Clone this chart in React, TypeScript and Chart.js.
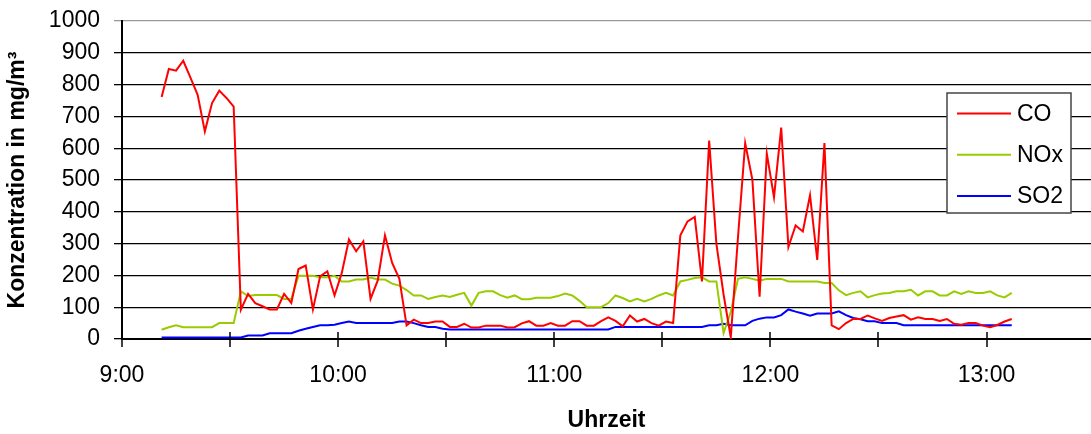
import React, { useEffect, useRef } from 'react';
import { Chart, registerables } from 'chart.js';

Chart.register(...registerables);

const FONT = "'Liberation Sans', Arial, Helvetica, sans-serif";

const times = [
  '9:11', '9:13', '9:15', '9:17', '9:19', '9:21', '9:23', '9:25', '9:27', '9:29',
  '9:31', '9:33', '9:35', '9:37', '9:39', '9:41', '9:43', '9:45', '9:47', '9:49',
  '9:51', '9:53', '9:55', '9:57', '9:59',
  '10:01', '10:03', '10:05', '10:07', '10:09', '10:11', '10:13', '10:15', '10:17', '10:19',
  '10:21', '10:23', '10:25', '10:27', '10:29', '10:31', '10:33', '10:35', '10:37', '10:39',
  '10:41', '10:43', '10:45', '10:47', '10:49', '10:51', '10:53', '10:55', '10:57', '10:59',
  '11:01', '11:03', '11:05', '11:07', '11:09', '11:11', '11:13', '11:15', '11:17', '11:19',
  '11:21', '11:23', '11:25', '11:27', '11:29', '11:31', '11:33', '11:35', '11:37', '11:39',
  '11:41', '11:43', '11:45', '11:47', '11:49', '11:51', '11:53', '11:55', '11:57', '11:59',
  '12:01', '12:03', '12:05', '12:07', '12:09', '12:11', '12:13', '12:15', '12:17', '12:19',
  '12:21', '12:23', '12:25', '12:27', '12:29', '12:31', '12:33', '12:35', '12:37', '12:39',
  '12:41', '12:43', '12:45', '12:47', '12:49', '12:51', '12:53', '12:55', '12:57', '12:59',
  '13:01', '13:03', '13:05', '13:07',
];

const coValues = [
  761, 849, 844, 875, 822, 768, 653, 742, 781, 758,
  731, 92, 142, 113, 103, 93, 93, 142, 113, 220,
  231, 93, 197, 213, 137, 207, 313, 276, 307, 126,
  184, 326, 239, 189, 43, 61, 50, 50, 55, 55,
  38, 38, 48, 36, 36, 42, 42, 42, 36, 37,
  49, 56, 42, 42, 50, 42, 42, 56, 56, 42,
  42, 56, 68, 57, 40, 74, 55, 63, 50, 42,
  55, 50, 326, 370, 384, 181, 624, 300, 140, 5,
  320, 616, 501, 133, 583, 446, 665, 289, 357, 338,
  452, 249, 616, 43, 31, 50, 63, 63, 74, 65,
  57, 66, 71, 75, 61, 68, 63, 63, 57, 63,
  48, 45, 50, 50, 42, 37, 44, 55, 63,
];

const noxValues = [
  29, 37, 43, 37, 37, 37, 37, 37, 50, 50,
  50, 150, 135, 138, 138, 138, 138, 126, 126, 199,
  199, 199, 194, 194, 199, 181, 181, 187, 187, 193,
  187, 187, 174, 168, 154, 137, 137, 126, 132, 137,
  132, 139, 145, 105, 145, 150, 150, 138, 130, 137,
  125, 125, 130, 130, 130, 135, 143, 137, 120, 100,
  100, 100, 113, 137, 129, 118, 126, 118, 126, 137,
  145, 137, 181, 186, 192, 194, 181, 181, 19, 85,
  189, 194, 189, 183, 189, 189, 189, 181, 181, 181,
  181, 181, 176, 176, 153, 138, 145, 150, 131, 138,
  143, 145, 150, 150, 155, 137, 150, 150, 137, 137,
  150, 142, 150, 145, 145, 150, 137, 131, 145,
];

const so2Values = [
  5, 5, 5, 5, 5, 5, 5, 5, 5, 5,
  5, 5, 11, 11, 11, 18, 18, 18, 18, 26,
  32, 38, 43, 43, 45, 50, 55, 50, 50, 50,
  50, 50, 50, 55, 55, 50, 43, 38, 38, 32,
  30, 30, 30, 30, 30, 30, 30, 30, 30, 30,
  30, 30, 30, 30, 30, 30, 30, 30, 30, 30,
  30, 30, 30, 38, 38, 38, 38, 38, 38, 38,
  38, 38, 38, 38, 38, 38, 43, 43, 48, 43,
  43, 43, 57, 64, 68, 68, 75, 93, 86, 80,
  73, 80, 80, 80, 87, 75, 66, 62, 56, 56,
  50, 50, 50, 43, 43, 43, 43, 43, 43, 43,
  43, 43, 43, 43, 43, 43, 43, 43, 43,
];

const seriesLabels = ['CO', 'NOx', 'SO2'];
const seriesColors = ['#ff0000', '#99cc00', '#0000ff'];

// x-axis ticks in minutes since midnight (every 30 min, labelled on the hour)
const xTickMinutes = [540, 570, 600, 630, 660, 690, 720, 750, 780];
const xMin = 540;
const xMax = 809;
const yMin = 0;
const yMax = 1000;
const yStep = 100;

const toMinutes = (t: string) => {
  const [h, m] = t.split(':').map(Number);
  return h * 60 + m;
};

const boxLegend = {
  id: 'boxLegend',
  afterDatasetsDraw(chart: any) {
    const ctx = chart.ctx;
    const x0 = 947;
    const y0 = 93;
    const w = 124;
    const h = 120;
    ctx.save();
    ctx.fillStyle = '#ffffff';
    ctx.fillRect(x0, y0, w, h);
    ctx.strokeStyle = '#444444';
    ctx.lineWidth = 1.5;
    ctx.strokeRect(x0, y0, w, h);
    chart.data.datasets.forEach((ds: any, i: number) => {
      const y = y0 + 20.5 + i * 41.2;
      ctx.strokeStyle = ds.borderColor;
      ctx.lineWidth = 2;
      ctx.beginPath();
      ctx.moveTo(x0 + 10, y);
      ctx.lineTo(x0 + 64, y);
      ctx.stroke();
      ctx.fillStyle = '#000000';
      ctx.font = `23px ${FONT}`;
      ctx.textBaseline = 'middle';
      ctx.textAlign = 'left';
      ctx.fillText(ds.label, x0 + 70, y + 1);
    });
    ctx.restore();
  },
};

const xTickMarks = {
  id: 'xTickMarks',
  afterDraw(chart: any) {
    const s = chart.scales.x;
    const ctx = chart.ctx;
    const yb = chart.chartArea.bottom;
    ctx.save();
    ctx.strokeStyle = '#000000';
    ctx.lineWidth = 1.5;
    s.ticks.forEach((t: any) => {
      const px = Math.round(s.getPixelForValue(t.value));
      ctx.beginPath();
      ctx.moveTo(px, yb - 7);
      ctx.lineTo(px, yb + 8);
      ctx.stroke();
    });
    ctx.restore();
  },
};

export default function App() {
  const canvasRef = useRef<HTMLCanvasElement | null>(null);

  useEffect(() => {
    if (!canvasRef.current) return;
    const xs = times.map(toMinutes);
    const series = [coValues, noxValues, so2Values];
    const chart = new Chart(canvasRef.current, {
      type: 'line',
      data: {
        datasets: series.map((vals, k) => ({
          label: seriesLabels[k],
          data: vals.map((v, i) => ({ x: xs[i], y: v })),
          borderColor: seriesColors[k],
          backgroundColor: seriesColors[k],
          borderWidth: 2,
          pointRadius: 0,
          tension: 0,
          fill: false,
        })),
      },
      options: {
        responsive: false,
        animation: false,
        maintainAspectRatio: false,
        layout: { padding: { top: 21, left: 0, right: 0, bottom: 0 } },
        plugins: {
          legend: { display: false },
          tooltip: { enabled: false },
        },
        scales: {
          x: {
            type: 'linear',
            min: xMin,
            max: xMax,
            afterBuildTicks: (s: any) => {
              s.ticks = xTickMinutes.map((v) => ({ value: v }));
            },
            afterFit: (s: any) => {
              s.height = 95;
              s.paddingLeft = 0;
              s.paddingRight = 0;
            },
            grid: { display: true, drawOnChartArea: false, drawTicks: false },
            border: { display: true, color: '#000000', width: 2 },
            ticks: {
              autoSkip: false,
              maxRotation: 0,
              minRotation: 0,
              padding: 23,
              color: '#000000',
              font: { family: FONT, size: 23 },
              callback: (v: any) => (Number(v) % 60 === 0 ? `${Number(v) / 60}:00` : ''),
            },
            title: {
              display: true,
              text: 'Uhrzeit',
              color: '#000000',
              font: { family: FONT, size: 23, weight: 'bold' },
              padding: { top: 0, bottom: 0 },
            },
          },
          y: {
            min: yMin,
            max: yMax,
            afterFit: (s: any) => {
              s.width = 122;
              s.paddingTop = 0;
              s.paddingBottom = 0;
            },
            ticks: {
              stepSize: yStep,
              padding: 14,
              color: '#000000',
              font: { family: FONT, size: 23 },
              callback: (v: any) => String(v),
            },
            grid: {
              color: (c: any) => (c.tick && c.tick.value === yMax ? '#999999' : '#000000'),
              lineWidth: 1.3,
              drawTicks: true,
              tickLength: 8,
            },
            border: { display: true, color: '#000000', width: 2 },
            title: {
              display: true,
              text: 'Konzentration in mg/m³',
              color: '#000000',
              font: { family: FONT, size: 23, weight: 'bold' },
              padding: { top: 4, bottom: 0 },
            },
          },
        },
      } as any,
      plugins: [boxLegend, xTickMarks],
    });
    return () => chart.destroy();
  }, []);

  return (
    <canvas
      ref={canvasRef}
      width={1091}
      height={434}
      style={{ position: 'fixed', left: 0, top: 0, display: 'block' }}
    />
  );
}
